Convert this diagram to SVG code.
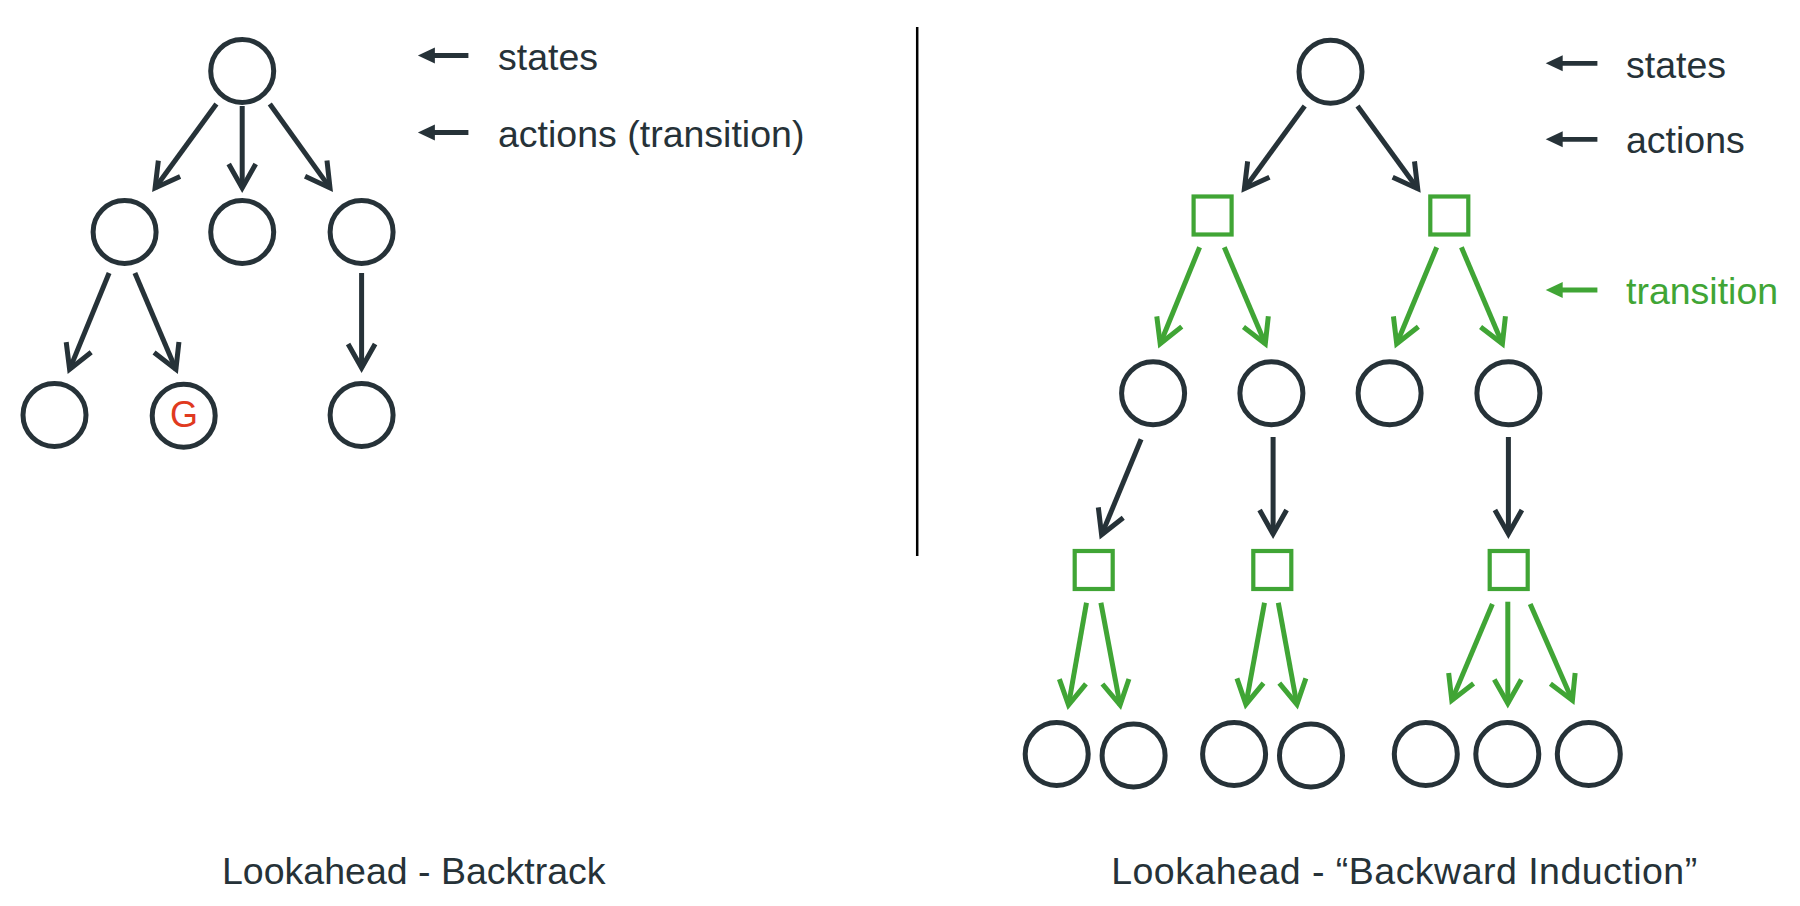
<svg xmlns="http://www.w3.org/2000/svg" width="1800" height="906" viewBox="0 0 1800 906">
<style>
.st{fill:#fff;stroke:#263238;stroke-width:5}
.ac{fill:#fff;stroke:#40a535;stroke-width:4.2}
.e{fill:none;stroke:#263238;stroke-width:5;marker-end:url(#chev)}
.g{fill:none;stroke:#40a535;stroke-width:5;marker-end:url(#chevg)}
.le{fill:none;stroke:#263238;stroke-width:4.8;marker-end:url(#tri)}
.lg{fill:none;stroke:#40a535;stroke-width:4.8;marker-end:url(#trig)}
.t{font-family:"Liberation Sans",Arial,Helvetica,sans-serif;font-size:37.5px;fill:#263238}
.tg{fill:#40a535}
</style>
<defs>
<marker id="chev" markerUnits="userSpaceOnUse" orient="auto" refX="0" refY="0" markerWidth="60" markerHeight="60" viewBox="-40 -30 60 60" overflow="visible">
<path d="M-24,-13.5 L0,0 L-24,13.5" fill="none" stroke="#263238" stroke-width="5"/>
</marker>
<marker id="chevg" markerUnits="userSpaceOnUse" orient="auto" refX="0" refY="0" markerWidth="60" markerHeight="60" viewBox="-40 -30 60 60" overflow="visible">
<path d="M-24,-13.5 L0,0 L-24,13.5" fill="none" stroke="#40a535" stroke-width="5"/>
</marker>
<marker id="tri" markerUnits="userSpaceOnUse" orient="auto" refX="0" refY="0" markerWidth="40" markerHeight="40" viewBox="-20 -20 40 40" overflow="visible">
<path d="M10,0 L-7,-8 L-7,8 Z" fill="#263238"/>
</marker>
<marker id="trig" markerUnits="userSpaceOnUse" orient="auto" refX="0" refY="0" markerWidth="40" markerHeight="40" viewBox="-20 -20 40 40" overflow="visible">
<path d="M10,0 L-7,-8 L-7,8 Z" fill="#40a535"/>
</marker>
</defs>
<rect width="1800" height="906" fill="#fff"/>

<g id="connectors">
<!-- left tree -->
<path class="e" d="M216.4,104 L155.1,188"/>
<path class="e" d="M242.2,106 L242.2,188"/>
<path class="e" d="M269.8,104 L330,187.9"/>
<path class="e" d="M109.1,273 L69.6,369.4"/>
<path class="e" d="M134.9,273 L175.9,369.4"/>
<path class="e" d="M361.6,273 L361.6,368"/>
<!-- right tree -->
<path class="e" d="M1304.7,106 L1244.4,188.7"/>
<path class="e" d="M1357.5,106 L1417.7,188.7"/>
<path class="g" d="M1199.6,247.3 L1160.2,343.7"/>
<path class="g" d="M1224.3,247.3 L1265.3,343.7"/>
<path class="g" d="M1436.7,247.3 L1396.7,343.7"/>
<path class="g" d="M1461.4,247.3 L1502.4,343.7"/>
<path class="e" d="M1141.1,439.3 L1101.6,534.7"/>
<path class="e" d="M1273.1,437 L1273.1,534"/>
<path class="e" d="M1508.4,437 L1508.4,534"/>
<path class="g" d="M1086.5,602.7 L1068.5,705.1"/>
<path class="g" d="M1100.9,602.7 L1120.1,705.1"/>
<path class="g" d="M1264.5,602.7 L1245.9,704.4"/>
<path class="g" d="M1278.3,602.7 L1296.9,704.4"/>
<path class="g" d="M1492.4,604 L1451.8,700.4"/>
<path class="g" d="M1507.8,601.7 L1507.8,703.5"/>
<path class="g" d="M1530.2,604 L1572.4,700.4"/>
<!-- legend arrows -->
<path class="le" d="M468.4,55.5 L427.9,55.5"/>
<path class="le" d="M468.4,132.5 L427.9,132.5"/>
<path class="le" d="M1597.4,63.3 L1555.7,63.3"/>
<path class="le" d="M1597.4,139.3 L1555.7,139.3"/>
<path class="lg" d="M1597.4,290 L1555.7,290"/>
</g>

<line id="divider" x1="917.2" y1="27" x2="917.2" y2="556" stroke="#000" stroke-width="2.5"/>

<!-- left tree nodes -->
<g id="L-root"><circle class="st" cx="242.2" cy="71" r="31.5"/></g>
<g id="L-a"><circle class="st" cx="124.6" cy="232" r="31.5"/></g>
<g id="L-b"><circle class="st" cx="242.2" cy="232" r="31.5"/></g>
<g id="L-c"><circle class="st" cx="361.6" cy="232" r="31.5"/></g>
<g id="L-aa"><circle class="st" cx="54.5" cy="415" r="31.5"/></g>
<g id="L-goal"><circle class="st" cx="183.7" cy="415.8" r="31.5"/><text x="184" y="427" text-anchor="middle" font-family="Liberation Sans, Arial, sans-serif" font-size="36" fill="#e03a1f">G</text></g>
<g id="L-ca"><circle class="st" cx="361.6" cy="415" r="31.5"/></g>

<!-- right tree nodes -->
<g id="R-root"><circle class="st" cx="1330.5" cy="71.7" r="31.5"/></g>
<g id="R-a1"><rect class="ac" x="1193.6" y="196.5" width="38" height="38"/></g>
<g id="R-a2"><rect class="ac" x="1430.3" y="196.5" width="38" height="38"/></g>
<g id="R-s1"><circle class="st" cx="1153.1" cy="393.3" r="31.5"/></g>
<g id="R-s2"><circle class="st" cx="1271.4" cy="393.3" r="31.5"/></g>
<g id="R-s3"><circle class="st" cx="1389.6" cy="393.3" r="31.5"/></g>
<g id="R-s4"><circle class="st" cx="1508.4" cy="393.3" r="31.5"/></g>
<g id="R-b1"><rect class="ac" x="1074.7" y="551" width="38" height="38"/></g>
<g id="R-b2"><rect class="ac" x="1253.3" y="551" width="38" height="38"/></g>
<g id="R-b3"><rect class="ac" x="1489.7" y="551" width="38" height="38"/></g>
<g id="R-l1"><circle class="st" cx="1056.7" cy="754" r="31.5"/></g>
<g id="R-l2"><circle class="st" cx="1133.6" cy="755.5" r="31.5"/></g>
<g id="R-l3"><circle class="st" cx="1234.1" cy="754" r="31.5"/></g>
<g id="R-l4"><circle class="st" cx="1311" cy="755.5" r="31.5"/></g>
<g id="R-l5"><circle class="st" cx="1425.8" cy="754" r="31.5"/></g>
<g id="R-l6"><circle class="st" cx="1507.3" cy="754" r="31.5"/></g>
<g id="R-l7"><circle class="st" cx="1588.8" cy="754" r="31.5"/></g>

<!-- legend and titles -->
<g id="legend-left">
<text class="t" x="498" y="69.5">states</text>
<text class="t" x="498" y="146.5">actions (transition)</text>
</g>
<g id="legend-right">
<text class="t" x="1626" y="77.7">states</text>
<text class="t" x="1626" y="153.3">actions</text>
<text class="t tg" x="1626" y="304.3">transition</text>
</g>
<g id="titles">
<text class="t" x="222" y="884">Lookahead - Backtrack</text>
<text class="t" x="1111.2" y="884" textLength="586" lengthAdjust="spacing">Lookahead - “Backward Induction”</text>
</g>
</svg>
